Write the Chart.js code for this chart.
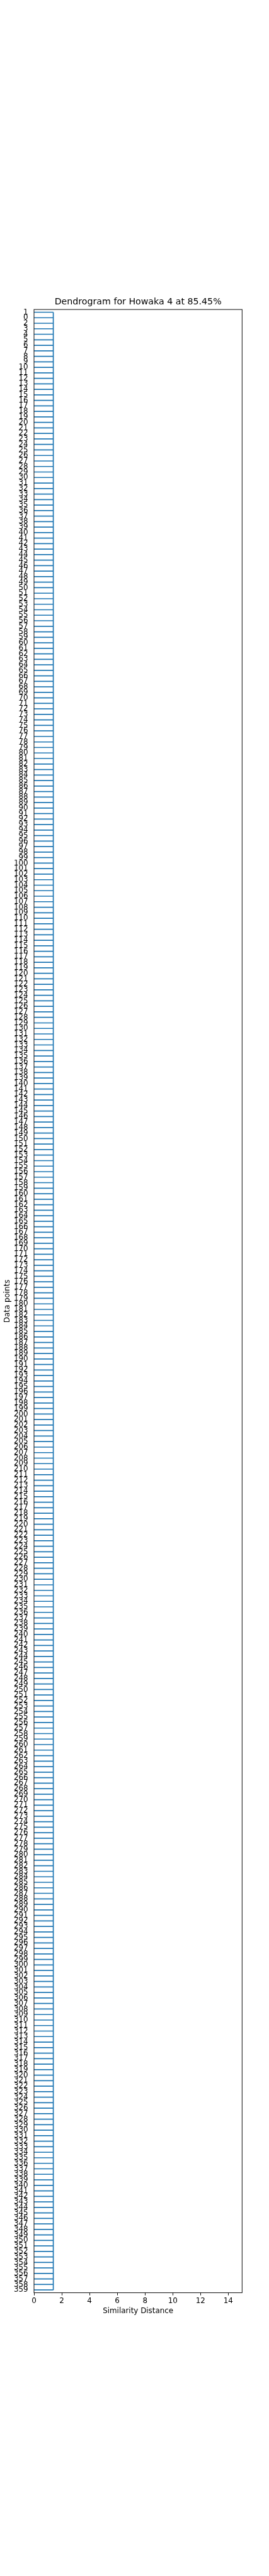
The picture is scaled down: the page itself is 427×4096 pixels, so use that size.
<!DOCTYPE html>
<html lang="en">
<head>
    <meta charset="UTF-8">
    <title>Dendrogram for Howaka 4</title>
    <script src="https://cdn.jsdelivr.net/npm/chart.js"></script>
    <style>
        body {
            margin: 0;
            background: #fff;
        }
        #chartContainer {
            width: 427px;
            height: 4096px;
        }
    </style>
</head>
<body>
    <div id="chartContainer">
        <canvas id="dendrogram"></canvas>
    </div>

    <script>
        // leaf order as read top to bottom
        const leafLabels = [
            '1', '0', '2', '3', '4', '5', '6', '7', '8', '9',
            '10', '11', '12', '13', '14', '15', '16', '17', '18', '19',
            '20', '21', '22', '23', '24', '25', '26', '27', '28', '29',
            '30', '31', '32', '33', '34', '35', '36', '37', '38', '39',
            '40', '41', '42', '43', '44', '45', '46', '47', '48', '49',
            '50', '51', '52', '53', '54', '55', '56', '57', '58', '59',
            '60', '61', '62', '63', '64', '65', '66', '67', '68', '69',
            '70', '71', '72', '73', '74', '75', '76', '77', '78', '79',
            '80', '81', '82', '83', '84', '85', '86', '87', '88', '89',
            '90', '91', '92', '93', '94', '95', '96', '97', '98', '99',
            '100', '101', '102', '103', '104', '105', '106', '107', '108', '109',
            '110', '111', '112', '113', '114', '115', '116', '117', '118', '119',
            '120', '121', '122', '123', '124', '125', '126', '127', '128', '129',
            '130', '131', '132', '133', '134', '135', '136', '137', '138', '139',
            '140', '141', '142', '143', '144', '145', '146', '147', '148', '149',
            '150', '151', '152', '153', '154', '155', '156', '157', '158', '159',
            '160', '161', '162', '163', '164', '165', '166', '167', '168', '169',
            '170', '171', '172', '173', '174', '175', '176', '177', '178', '179',
            '180', '181', '182', '183', '184', '185', '186', '187', '188', '189',
            '190', '191', '192', '193', '194', '195', '196', '197', '198', '199',
            '200', '201', '202', '203', '204', '205', '206', '207', '208', '209',
            '210', '211', '212', '213', '214', '215', '216', '217', '218', '219',
            '220', '221', '222', '223', '224', '225', '226', '227', '228', '229',
            '230', '231', '232', '233', '234', '235', '236', '237', '238', '239',
            '240', '241', '242', '243', '244', '245', '246', '247', '248', '249',
            '250', '251', '252', '253', '254', '255', '256', '257', '258', '259',
            '260', '261', '262', '263', '264', '265', '266', '267', '268', '269',
            '270', '271', '272', '273', '274', '275', '276', '277', '278', '279',
            '280', '281', '282', '283', '284', '285', '286', '287', '288', '289',
            '290', '291', '292', '293', '294', '295', '296', '297', '298', '299',
            '300', '301', '302', '303', '304', '305', '306', '307', '308', '309',
            '310', '311', '312', '313', '314', '315', '316', '317', '318', '319',
            '320', '321', '322', '323', '324', '325', '326', '327', '328', '329',
            '330', '331', '332', '333', '334', '335', '336', '337', '338', '339',
            '340', '341', '342', '343', '344', '345', '346', '347', '348', '349',
            '350', '351', '352', '353', '354', '355', '356', '357', '358', '359'
        ];
        // every leaf joins at the same distance
        const linkHeight = 1.39;
        const xTickValues = [0, 2, 4, 6, 8, 10, 12, 14];
        const xMax = 15;

        const leafLines = [];
        leafLabels.forEach(function(label) {
            leafLines.push({x: 0, y: label});
            leafLines.push({x: linkHeight, y: label});
            leafLines.push({x: null, y: label}); // break the line
        });
        const trunkLine = [
            {x: linkHeight, y: leafLabels[0]},
            {x: linkHeight, y: leafLabels[leafLabels.length - 1]}
        ];

        const frame = {
            id: 'frame',
            afterDraw(chart) {
                const {ctx, chartArea: a} = chart;
                ctx.save();
                ctx.strokeStyle = '#000';
                ctx.lineWidth = 0.95;
                ctx.strokeRect(a.left, a.top, a.right - a.left, a.bottom - a.top);
                ctx.restore();
            }
        };

        Chart.defaults.font.family = "'DejaVu Sans', sans-serif";
        Chart.defaults.color = '#000';

        const lineStyle = {
            showLine: true,
            borderColor: '#1f77b4',
            borderWidth: 1.7,
            pointRadius: 0,
            spanGaps: false,
            fill: false
        };

        const ctx = document.getElementById('dendrogram').getContext('2d');
        new Chart(ctx, {
            type: 'scatter',
            data: {
                datasets: [
                    Object.assign({data: leafLines}, lineStyle),
                    Object.assign({data: trunkLine}, lineStyle)
                ]
            },
            options: {
                responsive: true,
                maintainAspectRatio: false,
                animation: false,
                layout: {
                    padding: {top: 0, left: 0, right: 42.7, bottom: 405.4}
                },
                plugins: {
                    legend: {display: false},
                    tooltip: {enabled: false},
                    title: {
                        display: true,
                        fullSize: false, // center over the plot area
                        text: 'Dendrogram for Howaka 4 at 85.45%',
                        font: {size: 14.2, weight: 'normal'},
                        padding: {top: 471.5, bottom: 3.56}
                    }
                },
                scales: {
                    x: {
                        type: 'linear',
                        min: 0,
                        max: xMax,
                        afterBuildTicks: function(scale) {
                            scale.ticks = xTickValues.map(v => ({value: v}));
                        },
                        afterFit: function(scale) {
                            scale.height = 45;
                        },
                        ticks: {
                            font: {size: 11.9},
                            padding: 2,
                            maxRotation: 0
                        },
                        grid: {
                            display: true,
                            drawOnChartArea: false,
                            drawTicks: true,
                            tickLength: 4.2,
                            color: '#000',
                            lineWidth: 0.95
                        },
                        border: {display: false},
                        title: {
                            display: true,
                            text: 'Similarity Distance',
                            font: {size: 11.9},
                            padding: {top: 0, bottom: 8.96}
                        }
                    },
                    y: {
                        type: 'category',
                        labels: leafLabels,
                        offset: true,
                        afterFit: function(scale) {
                            scale.width = 54;
                        },
                        ticks: {
                            autoSkip: false,
                            font: {size: 11.9},
                            padding: 9.4
                        },
                        grid: {display: false, drawTicks: false},
                        border: {display: false},
                        title: {
                            display: true,
                            text: 'Data points',
                            font: {size: 11.9},
                            padding: {top: 4.4, bottom: 0}
                        }
                    }
                }
            },
            plugins: [frame]
        });
    </script>
</body>
</html>
